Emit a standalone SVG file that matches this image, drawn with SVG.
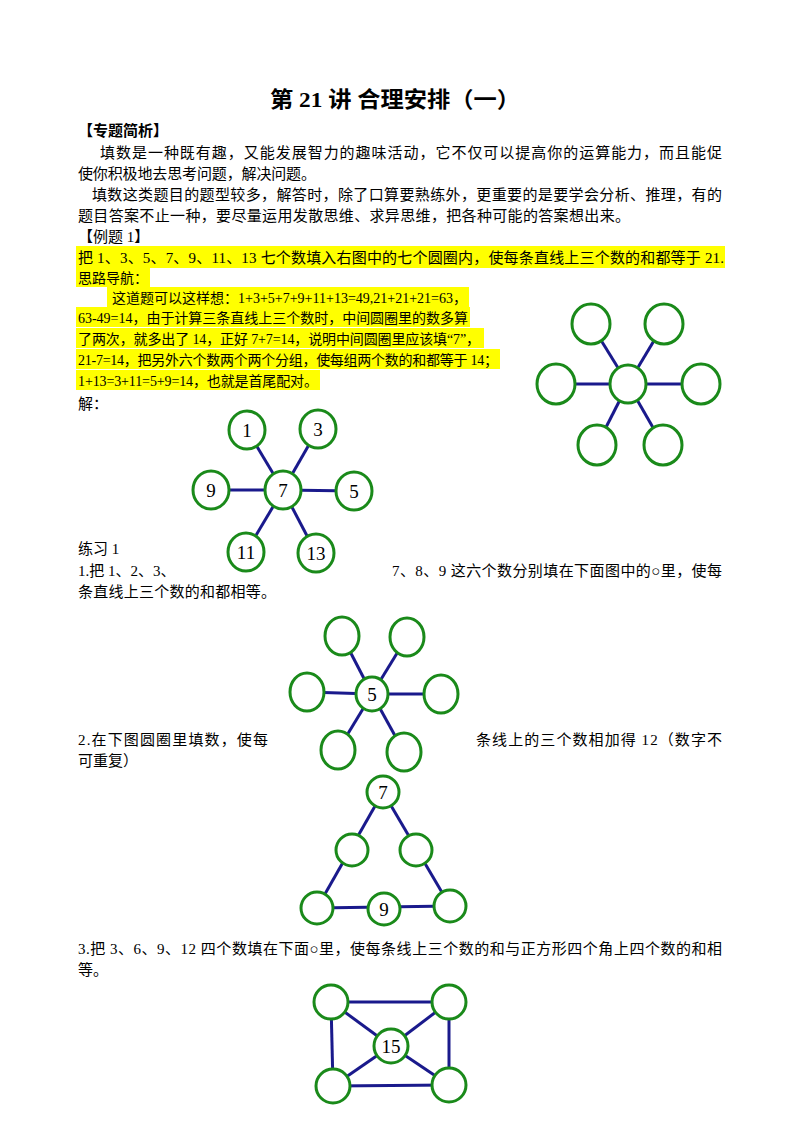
<svg xmlns="http://www.w3.org/2000/svg" width="800" height="1132" viewBox="0 0 800 1132">
<style>
text{font-family:"Liberation Serif","Noto Sans CJK SC",serif;font-size:15px;fill:#000}
.t{font-size:22px;font-weight:bold}
.b{font-weight:bold}
.hl{fill:#ffff00}
.n circle,.n ellipse{fill:#fff;stroke:#1a8a1a;stroke-width:3}
.n text{font-size:19px;text-anchor:middle}
#conn line{stroke:#1a1a8c;stroke-width:3}
</style>
<rect width="800" height="1132" fill="#fff"/>
<rect class="hl" x="76" y="246" width="649" height="22"/>
<rect class="hl" x="76" y="268" width="74" height="19"/>
<rect class="hl" x="107" y="287" width="362" height="20"/>
<rect class="hl" x="76" y="307" width="394" height="20"/>
<rect class="hl" x="76" y="328" width="408" height="20"/>
<rect class="hl" x="76" y="349" width="424" height="20"/>
<rect class="hl" x="76" y="370" width="244" height="20"/>
<text class="t" x="270" y="107" textLength="250" lengthAdjust="spacingAndGlyphs">第 21 讲  合理安排（一）</text>
<text class="b" x="78" y="136">【专题简析】</text>
<text x="100" y="158" textLength="622">填数是一种既有趣，又能发展智力的趣味活动，它不仅可以提高你的运算能力，而且能促</text>
<text x="78" y="179" textLength="238">使你积极地去思考问题，解决问题。</text>
<text x="92" y="200" textLength="630">填数这类题目的题型较多，解答时，除了口算要熟练外，更重要的是要学会分析、推理，有的</text>
<text x="78" y="221" textLength="552">题目答案不止一种，要尽量运用发散思维、求异思维，把各种可能的答案想出来。</text>
<text x="78" y="242">【例题 1】</text>
<text x="78" y="263" textLength="646">把 1、3、5、7、9、11、13 七个数填入右图中的七个圆圈内，使每条直线上三个数的和都等于 21.</text>
<text x="78" y="283" style="font-size:14px">思路导航：</text>
<text x="112" y="303" style="font-size:14px" textLength="355">这道题可以这样想：1+3+5+7+9+11+13=49,21+21+21=63，</text>
<text x="78" y="323" style="font-size:14px" textLength="390">63-49=14，由于计算三条直线上三个数时，中间圆圈里的数多算</text>
<text x="78" y="344" style="font-size:14px" textLength="402">了两次，就多出了 14，正好 7+7=14，说明中间圆圈里应该填“7”，</text>
<text x="78" y="365" style="font-size:14px" textLength="420">21-7=14，把另外六个数两个两个分组，使每组两个数的和都等于 14；</text>
<text x="78" y="386" style="font-size:14px" textLength="240">1+13=3+11=5+9=14，也就是首尾配对。</text>
<text x="78" y="409">解：</text>
<text x="78" y="554">练习 1</text>
<text x="78" y="576">1.把 1、2、3、</text>
<text x="392" y="576" textLength="330">7、8、9 这六个数分别填在下面图中的○里，使每</text>
<text x="78" y="597" textLength="198">条直线上三个数的和都相等。</text>
<text x="78" y="745" textLength="190">2.在下图圆圈里填数，使每</text>
<text x="476" y="745" textLength="246">条线上的三个数相加得 12（数字不</text>
<text x="78" y="766">可重复）</text>
<text x="78" y="954" textLength="644">3.把 3、6、9、12 四个数填在下面○里，使每条线上三个数的和与正方形四个角上四个数的和相</text>
<text x="78" y="975">等。</text>
<g id="conn">
<line x1="628" y1="384" x2="591" y2="324"/><line x1="628" y1="384" x2="664" y2="324"/><line x1="628" y1="384" x2="556" y2="384"/><line x1="628" y1="384" x2="701" y2="384"/><line x1="628" y1="384" x2="597" y2="445"/><line x1="628" y1="384" x2="663" y2="445"/>
<line x1="283" y1="490" x2="247" y2="430"/><line x1="283" y1="490" x2="318" y2="429"/><line x1="283" y1="490" x2="211" y2="490"/><line x1="283" y1="490" x2="354" y2="491"/><line x1="283" y1="490" x2="246" y2="552"/><line x1="283" y1="490" x2="316" y2="553"/>
<line x1="372" y1="694" x2="342" y2="636"/><line x1="372" y1="694" x2="407" y2="637"/><line x1="372" y1="694" x2="307" y2="692"/><line x1="372" y1="694" x2="441" y2="694"/><line x1="372" y1="694" x2="338" y2="750"/><line x1="372" y1="694" x2="404" y2="752"/>
<line x1="383" y1="792" x2="317" y2="908"/><line x1="383" y1="792" x2="450" y2="906"/><line x1="317" y1="908" x2="450" y2="906"/>
<line x1="331" y1="1002" x2="449" y2="1002"/><line x1="449" y1="1002" x2="449" y2="1085"/><line x1="449" y1="1085" x2="333" y2="1086"/><line x1="333" y1="1086" x2="331" y2="1002"/>
<line x1="391" y1="1046" x2="331" y2="1002"/><line x1="391" y1="1046" x2="449" y2="1002"/><line x1="391" y1="1046" x2="333" y2="1086"/><line x1="391" y1="1046" x2="449" y2="1085"/>
</g>
<g class="n">
<g id="e1c"><ellipse cx="628" cy="384" rx="18" ry="19"/></g>
<g id="e1a"><ellipse cx="591" cy="324" rx="19" ry="20"/></g>
<g id="e1b"><ellipse cx="664" cy="324" rx="19" ry="20"/></g>
<g id="e1d"><ellipse cx="556" cy="384" rx="19" ry="20"/></g>
<g id="e1e"><ellipse cx="701" cy="384" rx="19" ry="20"/></g>
<g id="e1f"><ellipse cx="597" cy="445" rx="19" ry="20"/></g>
<g id="e1g"><ellipse cx="663" cy="445" rx="19" ry="20"/></g>
<g id="a7"><ellipse cx="283" cy="490" rx="18" ry="19"/><text x="283" y="497">7</text></g>
<g id="a1"><ellipse cx="247" cy="430" rx="18" ry="19"/><text x="247" y="437">1</text></g>
<g id="a3"><ellipse cx="318" cy="429" rx="18" ry="19"/><text x="318" y="436">3</text></g>
<g id="a9"><ellipse cx="211" cy="490" rx="18" ry="19"/><text x="211" y="497">9</text></g>
<g id="a5"><ellipse cx="354" cy="491" rx="18" ry="19"/><text x="354" y="498">5</text></g>
<g id="a11"><ellipse cx="246" cy="552" rx="18" ry="19"/><text x="246" y="559">11</text></g>
<g id="a13"><ellipse cx="316" cy="553" rx="18" ry="19"/><text x="316" y="560">13</text></g>
<g id="p5"><ellipse cx="372" cy="694" rx="16" ry="17"/><text x="372" y="701">5</text></g>
<g id="p1"><ellipse cx="342" cy="636" rx="17" ry="19"/></g>
<g id="p2"><ellipse cx="407" cy="637" rx="17" ry="19"/></g>
<g id="p3"><ellipse cx="307" cy="692" rx="17" ry="19"/></g>
<g id="p4"><ellipse cx="441" cy="694" rx="17" ry="19"/></g>
<g id="p6"><ellipse cx="338" cy="750" rx="17" ry="19"/></g>
<g id="p7"><ellipse cx="404" cy="752" rx="17" ry="19"/></g>
<g id="t7"><ellipse cx="383" cy="792" rx="16" ry="16"/><text x="383" y="799">7</text></g>
<g id="tl"><ellipse cx="352" cy="850" rx="16" ry="16"/></g>
<g id="tr"><ellipse cx="416" cy="850" rx="16" ry="16"/></g>
<g id="tbl"><ellipse cx="317" cy="908" rx="16" ry="16"/></g>
<g id="t9"><ellipse cx="384" cy="909" rx="16" ry="16"/><text x="384" y="916">9</text></g>
<g id="tbr"><ellipse cx="450" cy="906" rx="16" ry="16"/></g>
<g id="s15"><ellipse cx="391" cy="1046" rx="17" ry="17"/><text x="391" y="1053">15</text></g>
<g id="s1"><ellipse cx="331" cy="1002" rx="17" ry="17"/></g>
<g id="s2"><ellipse cx="449" cy="1002" rx="17" ry="17"/></g>
<g id="s3"><ellipse cx="333" cy="1086" rx="17" ry="17"/></g>
<g id="s4"><ellipse cx="449" cy="1085" rx="17" ry="17"/></g>
</g>
</svg>
